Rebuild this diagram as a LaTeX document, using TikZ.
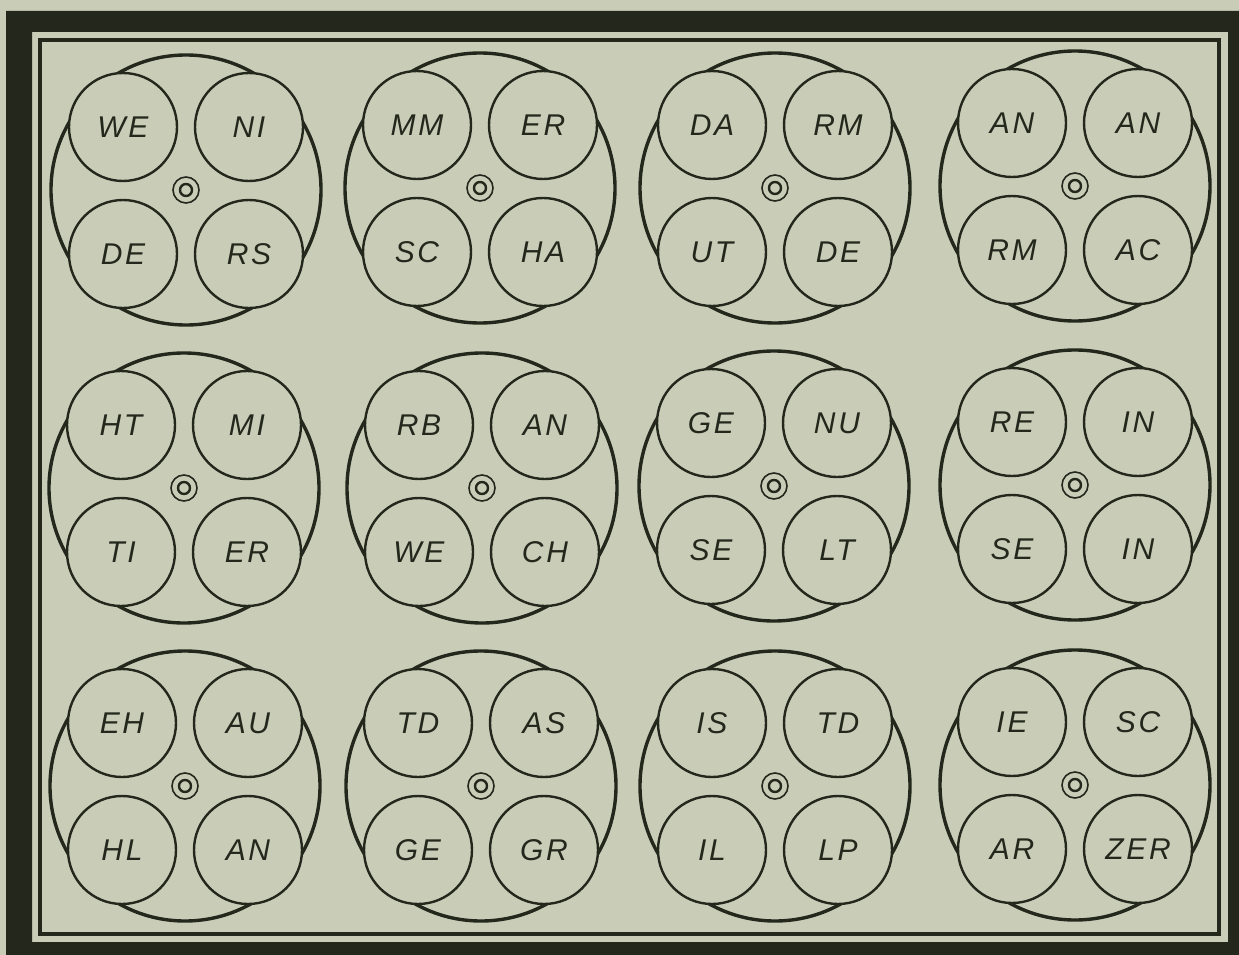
\documentclass[tikz,border=0pt]{standalone}
\usepackage{fontspec}
\setmainfont{Liberation Sans}
\newfontfamily\handfont[LetterSpace=9]{Liberation Sans}
\definecolor{paper}{RGB}{201,205,184}
\definecolor{ink}{RGB}{36,40,28}

\begin{document}
\begin{tikzpicture}[
			x=1pt, y=-1pt,
			wheel/.style={
				circle,
				draw=ink,
				line width=3.4pt,
				minimum size=270pt,
				inner sep=0pt
			},
			plate/.style={
				circle,
				draw=ink,
				fill=paper,
				line width=2.4pt,
				minimum size=108pt,
				inner sep=0pt,
				text=ink,
				font=\handfont\itshape\fontsize{30}{32}\selectfont
			},
			hub/.style={circle, draw=ink, line width=1.6pt, minimum size=26pt, inner sep=0pt},
			hubcore/.style={circle, draw=ink, line width=2.4pt, minimum size=12pt, inner sep=0pt}
			]
			\useasboundingbox (0,0) rectangle (1239,955);
			% paper and frame
			\fill[paper] (0,0) rectangle (1239,955);
			\fill[ink, even odd rule] (6,11) rectangle (1245,962) (32,32) rectangle (1228,942);
			\draw[ink, line width=3.5pt] (40,40) rectangle (1219,934);
			
			% twelve wheels, four plates each
			\foreach \cx/\cy/\n/\tl/\tr/\bl/\br in {
				186/190/a/WE/NI/DE/RS,
				480/188/b/MM/ER/SC/HA,
				775/188/c/DA/RM/UT/DE,
				1075/186/d/AN/AN/RM/AC,
				184/488/e/HT/MI/TI/ER,
				482/488/f/RB/AN/WE/CH,
				774/486/g/GE/NU/SE/LT,
				1075/485/h/RE/IN/SE/IN,
				185/786/i/EH/AU/HL/AN,
				481/786/j/TD/AS/GE/GR,
				775/786/k/IS/TD/IL/LP,
				1075/785/l/IE/SC/AR/ZER}
			{
				\node[wheel] (wheel-\n) at (\cx,\cy) {};
				\node[plate] (\n-tl) at ({\cx-63},{\cy-63}) {\tl};
				\node[plate] (\n-tr) at ({\cx+63},{\cy-63}) {\tr};
				\node[plate] (\n-bl) at ({\cx-63},{\cy+64}) {\bl};
				\node[plate] (\n-br) at ({\cx+63},{\cy+64}) {\br};
				\node[hub] (hub-\n) at (\cx,\cy) {};
				\node[hubcore] (core-\n) at (hub-\n) {};
			}
		\end{tikzpicture}
\end{document}
